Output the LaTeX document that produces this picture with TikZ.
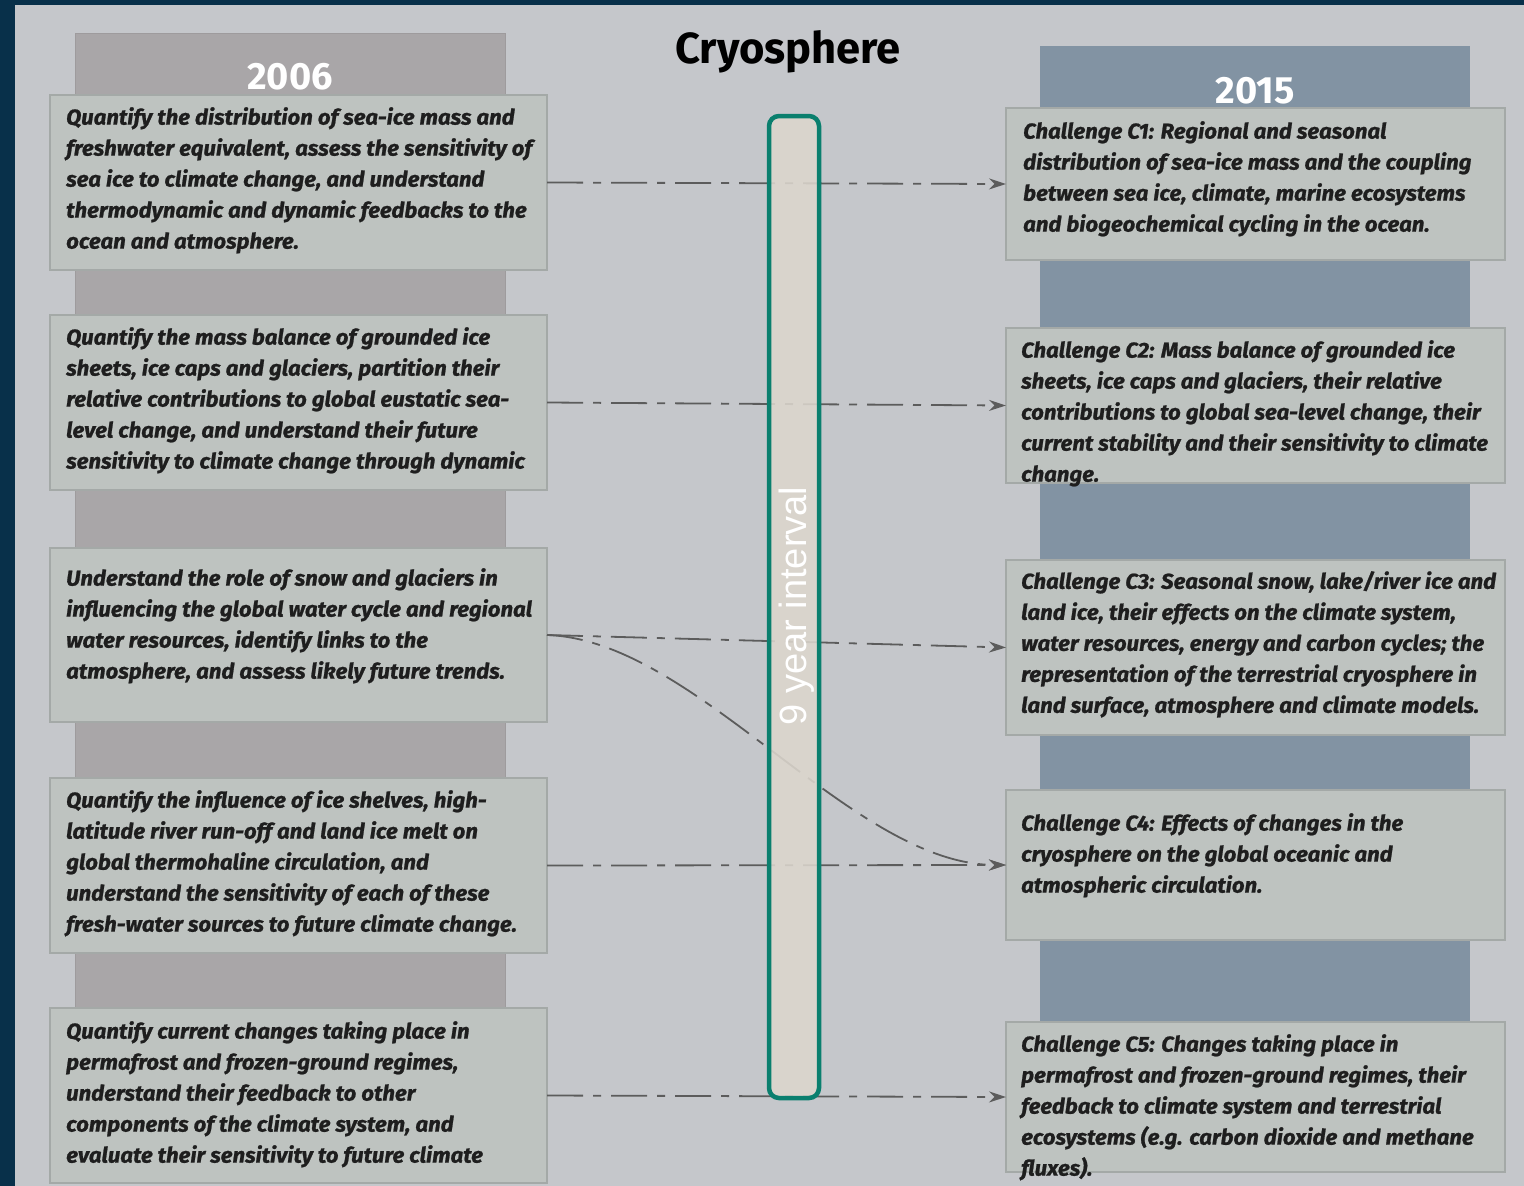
\documentclass[tikz,border=0pt]{standalone}
\usepackage{fontspec}
\setmainfont{Fira Sans}
\newfontfamily\boxfont{Fira Sans}[FakeStretch=1.03,FakeBold=1]
\newfontfamily\barfont{Liberation Sans}
\usetikzlibrary{arrows.meta}

\definecolor{framec}{HTML}{08304A}
\definecolor{bgc}{HTML}{C5C7CB}
\definecolor{oldcolc}{HTML}{A9A6A8}
\definecolor{oldedge}{HTML}{9E9B9D}
\definecolor{newcolc}{HTML}{8293A3}
\definecolor{boxfill}{HTML}{BEC3C0}
\definecolor{boxedge}{HTML}{A4A9A7}
\definecolor{barfill}{HTML}{DCD6CD}
\definecolor{tealc}{HTML}{0A7F6E}
\definecolor{linec}{HTML}{5C5C5C}
\definecolor{inkc}{HTML}{1E1E1E}

\tikzset{
  column/.style={anchor=north west, inner sep=0pt, outer sep=0pt},
  yearlabel/.style={text=white, font=\bfseries\fontsize{38}{38}\selectfont, inner sep=0pt},
  goalbox/.style={anchor=north west, fill=boxfill, draw=boxedge, line width=1.5pt,
    inner sep=0pt, outer sep=0pt},
  goaltext/.style={anchor=north west, align=left, inner sep=0pt, text=inkc,
    font=\boxfont\bfseries\itshape\fontsize{21.5}{31}\selectfont},
  link/.style={draw=linec, line width=1.8pt, dash pattern=on 36pt off 10pt on 8pt off 10pt,
    -{Stealth[length=17pt,width=11pt]}},
}

\begin{document}
\begin{tikzpicture}[x=1pt,y=-1pt]
\useasboundingbox (0,0) rectangle (1524,1186);
\fill[framec] (0,0) rectangle (1524,1186);
\fill[bgc] (15,5) rectangle (1524,1186);

% title
\node[font=\bfseries\fontsize{43.5}{44}\selectfont, text=black, inner sep=0pt] (title) at (788,52) {Cryosphere};

% the two year columns
\node[column, fill=oldcolc, draw=oldedge, line width=1pt, minimum width=430pt, minimum height=977pt] (oldcol) at (75,33) {};
\node[column, fill=newcolc, minimum width=430pt, minimum height=979pt] (newcol) at (1040,46) {};
\node[yearlabel] (y2006) at (290,77) {2006};
\node[yearlabel] (y2015) at (1255,91) {2015};

% 2006 goals
\node[goalbox, minimum width=497pt, minimum height=175pt] (o1) at (50,95) {};
\node[goalbox, minimum width=497pt, minimum height=175pt] (o2) at (50,315) {};
\node[goalbox, minimum width=497pt, minimum height=174pt] (o3) at (50,548) {};
\node[goalbox, minimum width=497pt, minimum height=175pt] (o4) at (50,778) {};
\node[goalbox, minimum width=497pt, minimum height=175pt] (o5) at (50,1008) {};

\node[goaltext] (o1t) at (66,107) {Quantify the distribution of sea-ice mass and\\
freshwater equivalent, assess the sensitivity of\\
sea ice to climate change, and understand\\
thermodynamic and dynamic feedbacks to the\\
ocean and atmosphere.};
\node[goaltext] (o2t) at (66,327) {Quantify the mass balance of grounded ice\\
sheets, ice caps and glaciers, partition their\\
relative contributions to global eustatic sea-\\
level change, and understand their future\\
sensitivity to climate change through dynamic};
\node[goaltext] (o3t) at (66,568) {Understand the role of snow and glaciers in\\
influencing the global water cycle and regional\\
water resources, identify links to the\\
atmosphere, and assess likely future trends.};
\node[goaltext] (o4t) at (66,790) {Quantify the influence of ice shelves, high-\\
latitude river run-off and land ice melt on\\
global thermohaline circulation, and\\
understand the sensitivity of each of these\\
fresh-water sources to future climate change.};
\node[goaltext] (o5t) at (66,1021) {Quantify current changes taking place in\\
permafrost and frozen-ground regimes,\\
understand their feedback to other\\
components of the climate system, and\\
evaluate their sensitivity to future climate};

% 2015 challenges
\node[goalbox, minimum width=499pt, minimum height=152pt] (n1) at (1006,108) {};
\node[goalbox, minimum width=499pt, minimum height=155pt] (n2) at (1006,328) {};
\node[goalbox, minimum width=499pt, minimum height=175pt] (n3) at (1006,560) {};
\node[goalbox, minimum width=499pt, minimum height=150pt] (n4) at (1006,790) {};
\node[goalbox, minimum width=499pt, minimum height=150pt] (n5) at (1006,1022) {};

\node[goaltext] (n1t) at (1023,121) {Challenge C1: Regional and seasonal\\
distribution of sea-ice mass and the coupling\\
between sea ice, climate, marine ecosystems\\
and biogeochemical cycling in the ocean.};
\node[goaltext] (n2t) at (1021,340) {Challenge C2: Mass balance of grounded ice\\
sheets, ice caps and glaciers, their relative\\
contributions to global sea-level change, their\\
current stability and their sensitivity to climate\\
change.};
\node[goaltext] (n3t) at (1021,571) {Challenge C3: Seasonal snow, lake/river ice and\\
land ice, their effects on the climate system,\\
water resources, energy and carbon cycles; the\\
representation of the terrestrial cryosphere in\\
land surface, atmosphere and climate models.};
\node[goaltext] (n4t) at (1021,813) {Challenge C4: Effects of changes in the\\
cryosphere on the global oceanic and\\
atmospheric circulation.};
\node[goaltext] (n5t) at (1021,1034) {Challenge C5: Changes taking place in\\
permafrost and frozen-ground regimes, their\\
feedback to climate system and terrestrial\\
ecosystems (e.g. carbon dioxide and methane\\
fluxes).};

% links from 2006 goals to 2015 challenges
\draw[link] (o1.east) -- (n1.west);
\draw[link] (o2.east) -- (n2.west);
\draw[link] (o3.east) -- (n3.west);
\draw[link] (o3.east) .. controls +(150,5) and +(-155,0) .. (n4.west);
\draw[link] (o4.east) -- (n4.west);
\draw[link] (o5.east) -- (n5.west);

% nine-year interval bar
\node[draw=tealc, line width=4.5pt, rounded corners=10pt, fill=barfill, fill opacity=0.88,
  minimum width=50pt, minimum height=982pt, inner sep=0pt] (bar) at (794,607) {};
\node[rotate=90, text=white, font=\barfont\fontsize{38}{38}\selectfont, inner sep=0pt] (barlabel) at (797,606) {9 year interval};
\end{tikzpicture}
\end{document}
